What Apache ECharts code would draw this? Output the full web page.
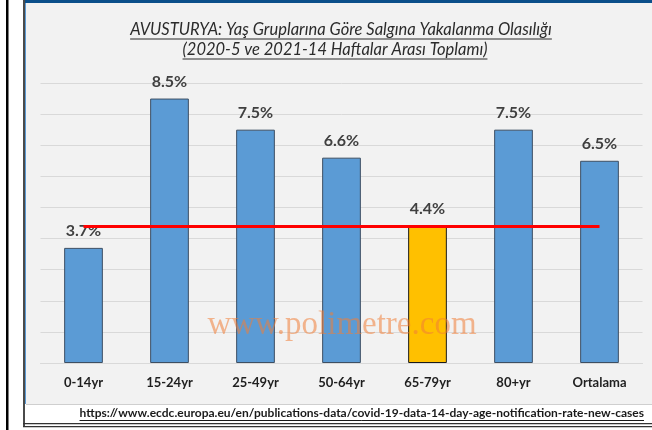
<!DOCTYPE html>
<html>
<head>
<meta charset="utf-8">
<script src="https://cdn.jsdelivr.net/npm/echarts@6/dist/echarts.min.js"></script>
<style>
  html, body { margin: 0; padding: 0; background: #fff; }
  #chart { width: 652px; height: 430px; }
</style>
</head>
<body>
<div id="chart"></div>
<script>
const categories = ['0-14yr', '15-24yr', '25-49yr', '50-64yr', '65-79yr', '80+yr', 'Ortalama'];
const rates = [3.7, 8.5, 7.5, 6.6, 4.4, 7.5, 6.5];
const highlighted = '65-79yr';
const referenceLevel = 4.4;
const titleLines = [
    'AVUSTURYA: Yaş Gruplarına Göre Salgına Yakalanma Olasılığı',
    '(2020-5 ve 2021-14 Haftalar Arası Toplamı)',
];
const sourceUrl = 'https://www.ecdc.europa.eu/en/publications-data/covid-19-data-14-day-age-notification-rate-new-cases';
const watermark = 'www.polimetre.com';

const titleFont = 'italic 16.5px Lato';
const urlFont = 'bold 12px Lato';

function textWidth(text, font) {
    const ctx = document.createElement('canvas').getContext('2d');
    ctx.font = font;
    return ctx.measureText(text).width;
}

function underlinedText(text, font, x, y, align, color, gap) {
    const w = textWidth(text, font);
    const left = align === 'right' ? x - w : align === 'center' ? x - w / 2 : x;
    return [
        {
            type: 'text',
            x: x,
            y: y,
            style: { text: text, font: font, fill: color, align: align, verticalAlign: 'middle' },
        },
        {
            type: 'line',
            shape: { x1: left, y1: y + gap, x2: left + w, y2: y + gap },
            style: { stroke: color, lineWidth: 1 },
        },
    ];
}

const chart = echarts.init(document.getElementById('chart'));

const frame = [
    { type: 'rect', z: -10, shape: { x: 0, y: 0, width: 652, height: 430 }, style: { fill: '#ffffff' } },
    { type: 'rect', z: -10, shape: { x: 6, y: 0, width: 2.5, height: 430 }, style: { fill: '#000000' } },
    { type: 'rect', z: -10, shape: { x: 26, y: 3, width: 626, height: 401 }, style: { fill: '#f2f2f2' } },
    { type: 'rect', z: -10, shape: { x: 23, y: 0, width: 629, height: 3 }, style: { fill: '#0b4f8a' } },
    { type: 'rect', z: -10, shape: { x: 23, y: 0, width: 2, height: 427 }, style: { fill: '#4a4a4a' } },
    { type: 'rect', z: -10, shape: { x: 25, y: 3, width: 1, height: 401 }, style: { fill: '#5b9bd5' } },
    { type: 'rect', z: -10, shape: { x: 26, y: 404, width: 626, height: 1 }, style: { fill: '#cfcfcf' } },
    { type: 'rect', z: -10, shape: { x: 23, y: 423, width: 629, height: 1.2 }, style: { fill: '#333333' } },
    { type: 'rect', z: -10, shape: { x: 23, y: 426, width: 629, height: 1.2 }, style: { fill: '#333333' } },
];

const texts = [
    ...underlinedText(titleLines[0], titleFont, 341, 30, 'center', '#2b2b2b', 9),
    ...underlinedText(titleLines[1], titleFont, 335, 50, 'center', '#2b2b2b', 9),
    ...underlinedText(sourceUrl, urlFont, 644, 413, 'right', '#1a1a1a', 7.5),
    {
        type: 'text',
        x: 342,
        y: 325,
        z: 10,
        style: {
            text: watermark,
            font: '33px "Liberation Serif"',
            fill: 'rgba(240, 125, 55, 0.55)',
            align: 'center',
            verticalAlign: 'middle',
        },
    },
];

chart.setOption({
    animation: false,
    graphic: [...frame, ...texts],
    grid: { left: 40.5, right: 9.5, top: 83, bottom: 67 },
    xAxis: {
        type: 'category',
        data: categories,
        axisLine: { lineStyle: { color: '#d9d9d9', width: 1 } },
        axisTick: { show: false },
        axisLabel: {
            margin: 13,
            fontFamily: 'Lato',
            fontWeight: 'bold',
            fontSize: 13,
            color: '#1f1f1f',
        },
    },
    yAxis: {
        type: 'value',
        min: 0,
        max: 9,
        interval: 1,
        axisLabel: { show: false },
        axisLine: { show: false },
        axisTick: { show: false },
        splitLine: { lineStyle: { color: '#d9d9d9', width: 1 } },
    },
    series: [
        {
            type: 'bar',
            barWidth: '45%',
            data: rates.map((value, i) => ({
                value: value,
                itemStyle: categories[i] === highlighted
                    ? { color: '#ffc000', borderColor: '#1a1a1a', borderWidth: 1 }
                    : { color: '#5b9bd5', borderColor: '#3d4f63', borderWidth: 1 },
            })),
            label: {
                show: true,
                position: 'top',
                distance: 9,
                formatter: '{c}%',
                fontFamily: 'Lato',
                fontWeight: 'bold',
                fontSize: 16,
                color: '#404040',
            },
            markLine: {
                silent: true,
                symbol: 'none',
                label: { show: false },
                lineStyle: { color: '#ff0000', width: 3, type: 'solid' },
                data: [[
                    { coord: [categories[0], referenceLevel] },
                    { coord: [categories[categories.length - 1], referenceLevel] },
                ]],
            },
        },
    ],
});
</script>
</body>
</html>
